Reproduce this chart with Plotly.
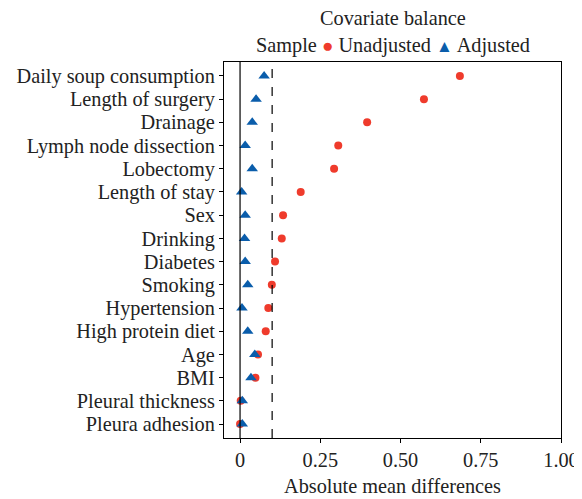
import plotly.graph_objects as go

covariates = ["Daily soup consumption", "Length of surgery", "Drainage",
              "Lymph node dissection", "Lobectomy", "Length of stay", "Sex",
              "Drinking", "Diabetes", "Smoking", "Hypertension",
              "High protein diet", "Age", "BMI", "Pleural thickness",
              "Pleura adhesion"]
unadjusted = [0.685, 0.573, 0.396, 0.306, 0.293, 0.189, 0.134, 0.130,
              0.109, 0.099, 0.088, 0.080, 0.056, 0.048, 0.002, 0.0]
adjusted = [0.075, 0.050, 0.038, 0.016, 0.038, 0.005, 0.016, 0.014,
            0.016, 0.024, 0.006, 0.024, 0.046, 0.034, 0.007, 0.007]
x_ticks = [0, 0.25, 0.5, 0.75, 1.0]
x_tick_labels = ["0", "0.25", "0.50", "0.75", "1.00"]
threshold = 0.1

FONT = "Liberation Serif"
FS = 20.3
TXT = "#222222"
RED = "#EF3B2C"
BLUE = "#0A5DAB"

fig = go.Figure()
fig.add_trace(go.Scatter(
    x=unadjusted, y=covariates, mode="markers", name="Unadjusted",
    marker=dict(symbol="circle", size=8, color=RED), showlegend=False,
))
fig.add_trace(go.Scatter(
    x=adjusted, y=covariates, mode="markers", name="Adjusted",
    marker=dict(symbol="triangle-up", size=10, color=BLUE), showlegend=False,
))

fig.add_shape(type="line", xref="x", yref="paper", x0=0, x1=0, y0=0, y1=1,
              line=dict(color="black", width=1.2))
fig.add_shape(type="line", xref="x", yref="paper", x0=threshold, x1=threshold,
              y0=0, y1=1, line=dict(color="black", width=1.2, dash="dash"))

legend_text = (
    "Sample <span style='color:%s;font-size:19px'>●</span> Unadjusted "
    "<span style='color:%s;font-size:17px'>▲</span> Adjusted" % (RED, BLUE)
)
fig.add_annotation(text=legend_text, xref="paper", yref="paper", x=0.5,
                   y=1 + 16 / 376, xanchor="center", yanchor="middle",
                   showarrow=False, font=dict(family=FONT, size=FS, color=TXT))
fig.add_annotation(text="Covariate balance", xref="paper", yref="paper",
                   x=0.5, y=1 + 44 / 376, xanchor="center", yanchor="middle",
                   showarrow=False, font=dict(family=FONT, size=FS, color=TXT))

fig.update_layout(
    width=574, height=491,
    margin=dict(l=216, r=21, t=54, b=61, autoexpand=False),
    paper_bgcolor="white", plot_bgcolor="white",
    font=dict(family=FONT, size=FS, color=TXT),
    showlegend=False,
)
fig.update_xaxes(
    range=[-0.05, 1.0], tickvals=x_ticks, ticktext=x_tick_labels,
    showgrid=False, zeroline=False, showline=True, linecolor="black",
    linewidth=1.2, mirror=True, ticks="outside", ticklen=4, tickcolor="black",
    tickfont=dict(family=FONT, size=FS, color=TXT), automargin=False,
    title=dict(text="Absolute mean differences", standoff=8,
               font=dict(family=FONT, size=FS, color=TXT)),
)
fig.update_yaxes(
    type="category", categoryorder="array", categoryarray=covariates[::-1],
    tickmode="array", tickvals=covariates, ticktext=covariates,
    range=[-0.6, len(covariates) - 0.4], automargin=False,
    showgrid=False, zeroline=False, showline=True, linecolor="black",
    linewidth=1.2, mirror=True, ticks="outside", ticklen=4, tickcolor="black",
    tickfont=dict(family=FONT, size=FS, color=TXT),
)

fig.write_html("out.html")
